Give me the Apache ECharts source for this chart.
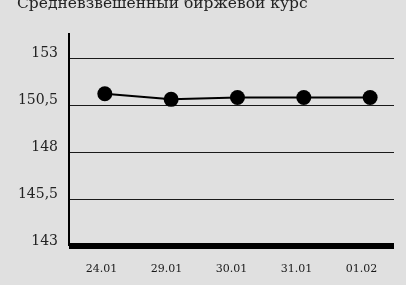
<!DOCTYPE html>
<html>
<head>
<meta charset="utf-8">
<script src="https://cdn.jsdelivr.net/npm/echarts@6/dist/echarts.min.js"></script>
<style>
  html, body { margin: 0; padding: 0; background: #e0e0e0; }
  #chart { width: 406px; height: 285px; }
</style>
</head>
<body>
<div id="chart"></div>
<script>
// данные графика
const title = "Средневзвешенный биржевой курс";
const dates = ["24.01", "29.01", "30.01", "31.01", "01.02"];
const rates = [151.1, 150.8, 150.9, 150.9, 150.9];
const yTicks = [143, 145.5, 148, 150.5, 153];

const myChart = echarts.init(document.getElementById("chart"));

const option = {
  backgroundColor: "#e0e0e0",
  textStyle: { fontFamily: "DejaVu Serif" },
  title: {
    text: title,
    left: 12,
    top: -9,
    textStyle: { fontSize: 15.5, fontWeight: "normal", color: "#222", fontFamily: "DejaVu Serif" },
  },
  grid: { left: 69, right: 12, top: 33, bottom: 39 },
  xAxis: [
    {
      type: "category",
      data: dates,
      boundaryGap: true,
      axisLine: { lineStyle: { color: "#000", width: 6, cap: "butt" } },
      axisTick: { show: false },
      axisLabel: { fontSize: 11, color: "#1a1a1a", margin: 18, fontFamily: "DejaVu Serif" },
    },
    {
      // скрытая ось для точек линии
      type: "value",
      show: false,
      min: -0.54,
      max: 4.36,
    },
  ],
  yAxis: {
    type: "value",
    min: yTicks[0],
    max: 154.33,
    interval: 2.5,
    axisLine: { show: true, onZero: false, lineStyle: { color: "#000", width: 2, cap: "butt" } },
    axisTick: { show: false },
    axisLabel: {
      fontSize: 14,
      color: "#222",
      margin: 11,
      verticalAlign: "bottom",
      lineHeight: 9,
      showMaxLabel: false,
      fontFamily: "DejaVu Serif",
      formatter: (v) => (yTicks.indexOf(v) >= 0 ? String(v).replace(".", ",") : ""),
    },
    splitLine: {
      show: true,
      showMaxLine: false,
      lineStyle: { color: "#1a1a1a", width: 1 },
    },
  },
  series: [
    {
      type: "line",
      xAxisIndex: 1,
      data: rates.map((v, i) => [i, v]),
      symbol: "circle",
      symbolSize: 15,
      itemStyle: { color: "#000" },
      lineStyle: { color: "#000", width: 2 },
      animation: false,
    },
  ],
};

myChart.setOption(option);
</script>
</body>
</html>
